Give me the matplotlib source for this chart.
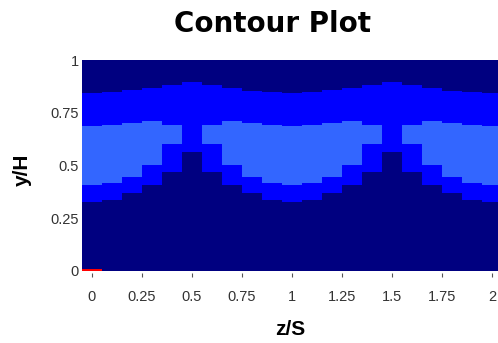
import numpy as np
import matplotlib
matplotlib.use('Agg')
import matplotlib.pyplot as plt

plt.rcParams['font.family'] = ['Liberation Sans', 'DejaVu Sans']

# column centres (z/S) and band edges (y/H)
z = [0.0, 0.1, 0.2, 0.3, 0.4, 0.5, 0.6, 0.7, 0.8, 0.9, 1.0,
     1.1, 1.2, 1.3, 1.4, 1.5, 1.6, 1.7, 1.8, 1.9, 2.0]
lower_edge = [0.329, 0.338, 0.368, 0.408, 0.471, 0.565, 0.471, 0.408, 0.368, 0.338, 0.329,
              0.338, 0.368, 0.408, 0.471, 0.565, 0.471, 0.408, 0.368, 0.338, 0.329]
light_bottom = [0.408, 0.416, 0.447, 0.504, 0.600, np.nan, 0.600, 0.504, 0.447, 0.416, 0.408,
                0.416, 0.447, 0.504, 0.600, np.nan, 0.600, 0.504, 0.447, 0.416, 0.408]
light_top = [0.688, 0.694, 0.700, 0.710, 0.692, np.nan, 0.692, 0.710, 0.700, 0.694, 0.688,
             0.694, 0.700, 0.710, 0.692, np.nan, 0.692, 0.710, 0.700, 0.694, 0.688]
upper_edge = [0.843, 0.847, 0.856, 0.868, 0.882, 0.897, 0.882, 0.866, 0.852, 0.847, 0.843,
              0.847, 0.856, 0.868, 0.882, 0.897, 0.882, 0.866, 0.852, 0.847, 0.843]
hot_z = [0.0]
hot_h = [0.011]

xticks = [0, 0.25, 0.5, 0.75, 1, 1.25, 1.5, 1.75, 2]
xticklabels = ['0', '0.25', '0.5', '0.75', '1', '1.25', '1.5', '1.75', '2']
yticks = [0, 0.25, 0.5, 0.75, 1]
yticklabels = ['0', '0.25', '0.5', '0.75', '1']

dark = '#000080'
blue = '#0000ff'
light = '#3366ff'

W, H = 498, 343
fig = plt.figure(figsize=(W / 100, H / 100), dpi=100)
ax = fig.add_axes([82 / W, 72 / H, 420 / W, 211 / H])
ax.set_facecolor(dark)

z_arr = np.array(z)
lo = np.array(lower_edge)
up = np.array(upper_edge)
lb = np.array(light_bottom)
lt = np.array(light_top)

ax.bar(z_arr, up - lo, bottom=lo, width=0.1, color=blue, linewidth=0)
ax.bar(z_arr, lt - lb, bottom=lb, width=0.1, color=light, linewidth=0)
ax.bar(hot_z, hot_h, bottom=0, width=0.1, color='#ff0000', linewidth=0)

ax.set_xlim(-0.05, 2.05)
ax.set_ylim(0, 1)

for s in ax.spines.values():
    s.set_visible(False)
ax.spines['bottom'].set_position(('outward', 1.5))

ax.set_xticks(xticks)
ax.set_xticklabels(xticklabels)
ax.set_yticks(yticks)
ax.set_yticklabels(yticklabels)
ax.tick_params(axis='x', length=3, width=0.8, color='#555555', pad=9,
               labelsize=10.5, labelcolor='#333333')
ax.tick_params(axis='y', length=0, pad=2.5, labelsize=10.5, labelcolor='#333333')

ax.set_xlabel('z/S', fontsize=15, fontweight='bold')
ax.xaxis.set_label_coords((290 - 82) / 420, (271 - 320) / 211)
ax.set_ylabel('y/H', fontsize=15, fontweight='bold')
ax.yaxis.set_label_coords((32 - 82) / 420, 0.48)

fig.text(272 / W, 1 - 24 / H, 'Contour Plot', fontsize=20, fontweight='bold',
         family='DejaVu Sans', ha='center', va='center')

fig.savefig('out.png', dpi=100)
